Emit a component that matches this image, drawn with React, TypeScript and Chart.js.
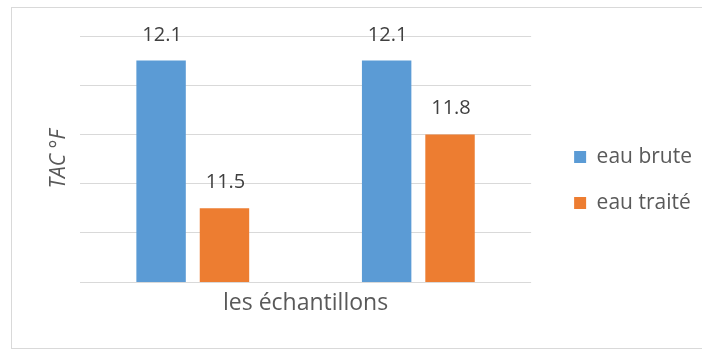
import { useEffect, useRef } from "react";
import { Chart, registerables } from "chart.js";

Chart.register(...registerables);

// Samples (no category captions under the bars)
const categories = ["", ""];
// TAC in °F
const eauBrute = [12.1, 12.1];
const eauTraite = [11.5, 11.8];
// Value axis range
const yMin = 11.2;
const yMax = 12.2;
const yStep = 0.2;

const FONT = "'Open Sans', Lato, sans-serif";
const GRID = "#D9D9D9";
const TEXT = "#595959";

// Writes each bar's value just above it
const valueLabels = {
  id: "valueLabels",
  afterDatasetsDraw(chart: any) {
    const { ctx } = chart;
    ctx.save();
    ctx.font = `20px ${FONT}`;
    ctx.fillStyle = "#404040";
    ctx.textAlign = "center";
    ctx.textBaseline = "alphabetic";
    chart.data.datasets.forEach((ds: any, i: number) => {
      chart.getDatasetMeta(i).data.forEach((bar: any, j: number) => {
        ctx.fillText(Number(ds.data[j]).toFixed(1), bar.x + 1, bar.y - 20);
      });
    });
    ctx.restore();
  },
};

// Thin frame around the whole chart
const frame = {
  id: "frame",
  beforeDraw(chart: any) {
    const { ctx } = chart;
    ctx.save();
    ctx.strokeStyle = GRID;
    ctx.lineWidth = 1;
    ctx.strokeRect(11.5, 7.5, chart.width, 341);
    ctx.restore();
  },
};

export default function App() {
  const canvasRef = useRef<HTMLCanvasElement | null>(null);

  useEffect(() => {
    if (!canvasRef.current) return;
    const chart = new Chart(canvasRef.current, {
      type: "bar",
      data: {
        labels: categories,
        datasets: [
          {
            label: "eau brute",
            data: eauBrute,
            backgroundColor: "#5B9BD5",
            categoryPercentage: 0.562,
            barPercentage: 0.78,
          },
          {
            label: "eau traité",
            data: eauTraite,
            backgroundColor: "#ED7D31",
            categoryPercentage: 0.562,
            barPercentage: 0.78,
          },
        ],
      },
      options: {
        animation: false,
        responsive: false,
        maintainAspectRatio: false,
        layout: { padding: { left: 10, top: 36, right: 0, bottom: 27 } },
        plugins: {
          tooltip: { enabled: false },
          legend: {
            position: "right",
            maxWidth: 220,
            labels: {
              color: TEXT,
              font: { family: FONT, size: 21 },
              boxWidth: 12,
              boxHeight: 12,
              padding: 25,
            },
          },
        },
        scales: {
          x: {
            grid: { display: false },
            border: { display: false },
            ticks: { display: false },
            title: {
              display: true,
              text: "les échantillons",
              color: TEXT,
              font: { family: FONT, size: 23 },
              padding: { top: 0, bottom: 7 },
            },
            afterFit(scale: any) {
              scale.height = 42;
            },
          },
          y: {
            min: yMin,
            max: yMax,
            ticks: { display: false, stepSize: yStep },
            grid: { color: GRID, lineWidth: 1, drawTicks: false },
            border: { display: false },
            title: {
              display: true,
              text: "TAC °F",
              color: TEXT,
              font: { family: FONT, size: 21, style: "italic" },
              padding: { top: 36, bottom: 0 },
            },
            afterFit(scale: any) {
              scale.width = 70;
            },
          },
          legendGap: {
            type: "linear",
            position: "right",
            display: true,
            grid: { display: false },
            border: { display: false },
            ticks: { display: false },
            afterFit(scale: any) {
              scale.width = 18;
            },
          },
        },
      },
      plugins: [frame, valueLabels],
    } as any);
    return () => chart.destroy();
  }, []);

  return (
    <div style={{ position: "fixed", left: 0, top: 0, width: 702, height: 351, background: "#fff" }}>
      <canvas ref={canvasRef} width={702} height={351} style={{ display: "block" }} />
    </div>
  );
}
